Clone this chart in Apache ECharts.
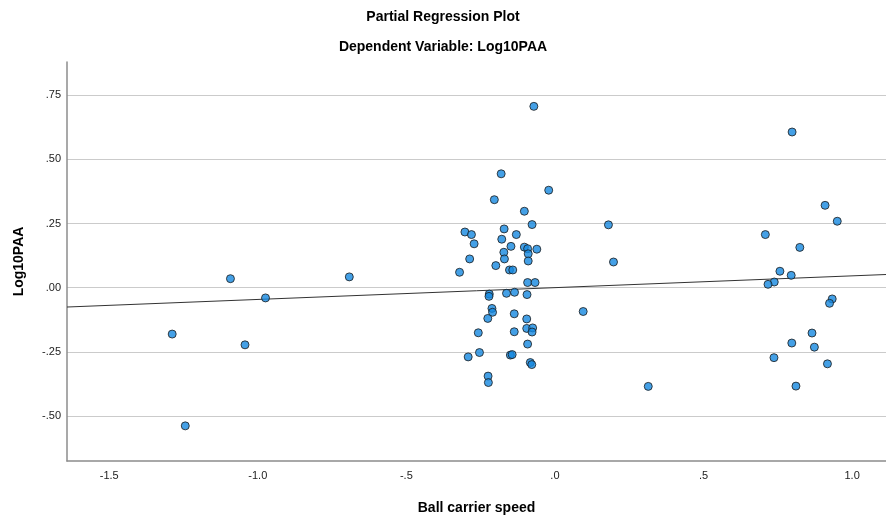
<!DOCTYPE html>
<html>
<head>
<meta charset="utf-8">
<script src="https://cdn.jsdelivr.net/npm/echarts@6/dist/echarts.min.js"></script>
<style>
  html, body { margin: 0; padding: 0; background: #ffffff; }
  #chart { width: 886px; height: 522px; }
</style>
</head>
<body>
<div id="chart"></div>
<script>
// Partial regression residuals: ball carrier speed (x) vs Log10PAA (y)
const speedResid = [
  -1.092, -0.692, -0.974, -1.288, -1.043, -1.244,
  -0.071, -0.181, -0.021, -0.204, -0.103, -0.077, -0.303, -0.281, -0.171, -0.130,
  -0.179, -0.272, -0.148, -0.103, -0.092, -0.061, -0.172, -0.090, -0.287, -0.170,
  -0.090, -0.199, -0.321, -0.153, -0.142, -0.092, -0.067, -0.221, -0.222, -0.163,
  -0.136, -0.094, -0.212, -0.210, -0.226, -0.137, -0.095, -0.258, -0.137, -0.095,
  -0.075, -0.077, -0.092, -0.254, -0.292, -0.150, -0.144, -0.083, -0.078, -0.225,
  -0.224,
  0.798, 0.909, 0.950, 0.180, 0.708, 0.824, 0.197, 0.757, 0.795, 0.738, 0.717,
  0.933, 0.924, 0.095, 0.865, 0.797, 0.873, 0.737, 0.917, 0.314, 0.811
];
const paaResid = [
  0.035, 0.042, -0.040, -0.181, -0.223, -0.539,
  0.707, 0.444, 0.380, 0.343, 0.298, 0.246, 0.217, 0.207, 0.229, 0.207,
  0.189, 0.171, 0.161, 0.158, 0.152, 0.150, 0.138, 0.132, 0.112, 0.112,
  0.104, 0.086, 0.060, 0.069, 0.069, 0.020, 0.020, -0.025, -0.034, -0.022,
  -0.018, -0.027, -0.081, -0.096, -0.120, -0.102, -0.122, -0.176, -0.172, -0.159,
  -0.157, -0.173, -0.220, -0.253, -0.270, -0.263, -0.261, -0.292, -0.300, -0.345,
  -0.370,
  0.607, 0.321, 0.259, 0.245, 0.207, 0.157, 0.100, 0.064, 0.048, 0.022, 0.013,
  -0.044, -0.061, -0.093, -0.177, -0.216, -0.232, -0.273, -0.297, -0.385, -0.384
];

// Fit line through the residuals
const fitIntercept = 0.0;
const fitSlope = 0.046;

// Axis ranges and tick labels
const xRange = [-1.642, 1.114];
const yRange = [-0.676, 0.880];
const xTicks = [-1.5, -1.0, -0.5, 0.0, 0.5, 1.0];
const xTickLabels = ['-1.5', '-1.0', '-.5', '.0', '.5', '1.0'];
const yTicks = [-0.5, -0.25, 0.0, 0.25, 0.5, 0.75];
const yTickLabels = ['-.50', '-.25', '.00', '.25', '.50', '.75'];

const points = speedResid.map((x, i) => [x, paaResid[i]]);
const fitLine = xRange.map(x => [x, fitIntercept + fitSlope * x]);

function labelFor(ticks, labels) {
  return v => {
    const i = ticks.findIndex(t => Math.abs(t - v) < 1e-6);
    return i >= 0 ? labels[i] : '';
  };
}

const FONT = '"Liberation Sans", Arial, sans-serif';
const chart = echarts.init(document.getElementById('chart'), null, { renderer: 'canvas' });

chart.setOption({
  backgroundColor: '#ffffff',
  animation: false,
  title: [
    {
      text: 'Partial Regression Plot',
      left: 'center', top: 5,
      textStyle: { fontFamily: FONT, fontSize: 14, fontWeight: 'bold', color: '#000' }
    },
    {
      text: 'Dependent Variable: Log10PAA',
      left: 'center', top: 35,
      textStyle: { fontFamily: FONT, fontSize: 14, fontWeight: 'bold', color: '#000' }
    }
  ],
  grid: { left: 67, right: 0, top: 62, bottom: 61, containLabel: false },
  xAxis: {
    type: 'value',
    min: xRange[0], max: xRange[1],
    name: 'Ball carrier speed',
    nameLocation: 'middle',
    nameGap: 40,
    nameTextStyle: { fontFamily: FONT, fontSize: 14, fontWeight: 'bold', color: '#000' },
    axisLine: { show: true, onZero: false, lineStyle: { color: '#8c8c8c', width: 1.5 } },
    axisTick: { show: false, customValues: xTicks },
    axisLabel: {
      customValues: xTicks,
      formatter: labelFor(xTicks, xTickLabels),
      fontFamily: FONT, fontSize: 11, color: '#222', margin: 9
    },
    splitLine: { show: false }
  },
  yAxis: {
    type: 'value',
    min: yRange[0], max: yRange[1],
    name: 'Log10PAA',
    nameLocation: 'middle',
    nameGap: 41,
    nameTextStyle: { fontFamily: FONT, fontSize: 14, fontWeight: 'bold', color: '#000' },
    axisLine: { show: true, onZero: false, lineStyle: { color: '#8c8c8c', width: 1.5 } },
    axisTick: { show: false, customValues: yTicks },
    axisLabel: {
      customValues: yTicks,
      formatter: labelFor(yTicks, yTickLabels),
      fontFamily: FONT, fontSize: 11, color: '#222', margin: 6
    },
    splitLine: { show: true, lineStyle: { color: '#cbcbcb', width: 1.2 } }
  },
  series: [
    {
      type: 'line',
      data: fitLine,
      symbol: 'none',
      silent: true,
      lineStyle: { color: '#333333', width: 1 },
      z: 2
    },
    {
      type: 'scatter',
      data: points,
      symbol: 'circle',
      symbolSize: 8,
      itemStyle: { color: '#1588e0', borderColor: '#1a1a1a', borderWidth: 1 },
      z: 3
    }
  ]
});
</script>
</body>
</html>
